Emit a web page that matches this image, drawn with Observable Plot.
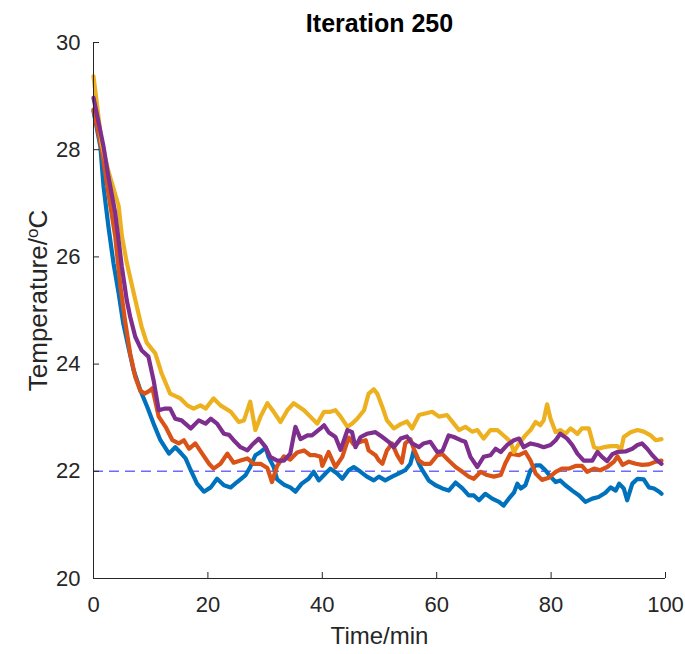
<!DOCTYPE html>
<html><head><meta charset="utf-8">
<script src="https://cdn.jsdelivr.net/npm/d3@7"></script>
<script src="https://cdn.jsdelivr.net/npm/@observablehq/plot@0.6"></script>
<style>body{margin:0;background:#fff;}</style>
</head><body><div id="chart"></div>
<script>
const titleText = "Iteration 250";
const xLabel = "Time/min";
const yLabel = "Temperature/oC";
const xTicks = [0, 20, 40, 60, 80, 100];
const yTicks = [20, 22, 24, 26, 28, 30];
const setpoint = [22];
const seriesColors = ["#0072BD", "#D95319", "#EDB120", "#7E2F8E"];

const blue = [[0,28.72],[1.2,28.06],[1.75,27.32],[2.6,26.57],[3.5,25.88],[4.4,25.32],[5.2,24.76],[6.1,24.32],[7.0,23.89],[8.2,23.51],[9.4,23.2],[10.5,22.89],[11.7,22.58],[13.2,22.33],[14.3,22.45],[15.2,22.35],[16.1,22.24],[17.0,22.02],[18.1,21.77],[19.3,21.62],[20.5,21.7],[21.6,21.86],[22.8,21.74],[24.0,21.7],[25.1,21.8],[26.6,21.93],[27.4,22.08],[28.3,22.3],[29.2,22.36],[30.1,22.44],[30.6,22.27],[31.5,22.08],[32.1,21.85],[33.3,21.75],[34.4,21.7],[35.3,21.62],[36.4,21.77],[37.6,21.86],[38.5,21.99],[39.4,21.83],[40.3,21.93],[41.4,22.05],[42.6,21.96],[43.5,21.86],[44.6,22.02],[45.5,22.08],[46.7,21.99],[47.8,21.9],[49.0,21.83],[49.9,21.9],[51.0,21.83],[52.2,21.9],[53.4,21.96],[54.5,22.02],[55.4,22.14],[56.0,22.39],[56.9,22.14],[57.5,22.02],[58.6,21.83],[59.8,21.74],[61.0,21.68],[62.1,21.64],[63.3,21.79],[64.5,21.68],[65.6,21.55],[66.5,21.55],[67.4,21.46],[68.5,21.58],[69.7,21.49],[70.9,21.43],[71.7,21.36],[72.6,21.49],[73.5,21.6],[74.1,21.77],[74.7,21.68],[75.5,21.74],[76.4,22.02],[77.3,22.11],[78.1,22.11],[79.0,22.02],[79.9,21.9],[80.8,21.8],[81.6,21.83],[82.5,21.74],[83.7,21.64],[84.9,21.55],[86.0,21.43],[87.2,21.49],[88.3,21.52],[89.5,21.6],[90.4,21.7],[91.3,21.64],[91.9,21.77],[92.7,21.68],[93.3,21.46],[94.2,21.77],[95.1,21.86],[96.2,21.85],[97.1,21.7],[98.0,21.68],[98.9,21.62],[99.3,21.58]];

const orange = [[0,28.75],[1.45,28.0],[2.6,27.19],[3.8,26.38],[4.7,25.45],[5.5,24.82],[6.4,24.2],[7.3,23.76],[8.2,23.5],[9.0,23.45],[9.9,23.51],[10.3,23.55],[11.4,23.02],[12.6,22.83],[13.8,22.58],[14.9,22.52],[15.8,22.58],[16.7,22.42],[17.8,22.52],[19.0,22.33],[20.2,22.14],[21.0,22.05],[22.2,22.14],[23.4,22.33],[24.5,22.16],[25.7,22.2],[26.9,22.24],[28.0,22.14],[29.2,22.14],[30.4,22.06],[31.2,21.8],[32.1,22.1],[33.3,22.28],[34.4,22.22],[35.6,22.35],[36.8,22.39],[37.9,22.3],[38.8,22.3],[39.7,22.27],[40.0,22.1],[41.1,22.36],[42.3,22.08],[43.5,22.27],[44.6,22.63],[45.5,22.5],[46.7,22.55],[47.6,22.58],[48.1,22.39],[49.3,22.3],[49.9,22.2],[50.5,22.14],[51.3,22.39],[52.2,22.52],[53.1,22.3],[53.9,22.16],[54.5,22.52],[55.4,22.6],[56.0,22.42],[56.9,22.2],[57.7,22.14],[58.9,22.14],[60.1,22.3],[61.0,22.32],[62.1,22.2],[63.3,22.08],[64.5,21.99],[65.6,21.9],[66.5,21.86],[67.7,21.99],[68.8,21.93],[70.0,21.9],[71.2,21.93],[72.0,22.15],[72.9,22.33],[74.4,22.3],[75.5,22.36],[76.4,22.2],[77.3,21.96],[78.4,21.84],[79.6,21.88],[80.8,21.99],[81.9,22.05],[83.1,22.05],[84.3,22.1],[85.4,22.1],[86.3,21.99],[87.5,22.05],[88.6,22.02],[89.8,22.08],[91.0,22.18],[91.6,22.28],[92.5,22.12],[93.6,22.18],[94.8,22.14],[95.9,22.12],[97.1,22.13],[98.3,22.18],[99.3,22.2]];

const yellow = [[0,29.37],[1.45,28.1],[2.6,27.6],[4.4,26.95],[4.95,26.4],[5.8,25.9],[7.3,25.2],[8.4,24.7],[9.3,24.4],[10.8,24.2],[11.9,23.83],[13.4,23.45],[15.2,23.36],[16.4,23.23],[17.5,23.17],[18.7,23.23],[19.6,23.17],[21.0,23.36],[22.2,23.23],[24.0,23.11],[25.4,22.92],[26.3,22.95],[27.4,23.3],[28.3,22.77],[29.2,23.02],[30.4,23.27],[31.5,23.11],[32.7,22.92],[33.9,23.14],[35.0,23.27],[36.8,23.14],[37.9,23.02],[39.1,22.89],[40.3,23.11],[41.4,23.11],[42.3,23.14],[43.2,23.02],[44.4,22.83],[45.2,22.89],[46.1,22.98],[47.3,23.14],[48.1,23.45],[49.0,23.53],[49.6,23.45],[50.5,23.2],[51.3,22.95],[52.5,22.8],[53.7,22.88],[54.8,22.93],[55.7,22.8],[56.9,23.05],[58.0,23.08],[59.2,23.11],[60.4,23.02],[61.8,23.05],[63.0,22.89],[63.9,22.77],[65.0,22.83],[66.2,22.74],[67.1,22.77],[68.2,22.61],[69.4,22.77],[70.6,22.77],[72.0,22.64],[72.9,22.55],[73.5,22.36],[74.4,22.52],[75.5,22.67],[76.4,22.77],[77.3,22.92],[78.1,22.86],[78.7,22.95],[79.3,23.25],[79.9,22.98],[80.8,22.73],[81.6,22.77],[82.5,22.7],[83.4,22.8],[84.6,22.7],[85.4,22.8],[86.6,22.8],[87.5,22.45],[88.3,22.42],[89.2,22.45],[90.4,22.47],[91.6,22.47],[92.2,22.39],[92.7,22.64],[93.9,22.73],[95.1,22.77],[96.2,22.74],[97.4,22.67],[98.3,22.58],[99.3,22.6]];

const purple = [[0,28.97],[1.75,28.06],[2.6,27.5],[3.8,26.82],[4.95,25.82],[5.8,25.2],[6.4,24.89],[7.3,24.51],[8.4,24.26],[9.6,24.14],[10.5,23.7],[11.4,23.14],[12.5,23.17],[13.4,23.17],[14.3,22.98],[15.4,22.95],[17.0,22.8],[18.4,22.95],[19.6,22.89],[20.5,22.98],[21.6,22.89],[22.8,22.7],[23.7,22.68],[24.5,22.58],[25.7,22.45],[26.9,22.39],[27.7,22.49],[28.9,22.61],[30.1,22.45],[30.9,22.27],[32.1,22.2],[33.3,22.2],[34.4,22.33],[35.3,22.83],[36.2,22.6],[37.4,22.67],[38.2,22.67],[39.7,22.8],[40.3,22.86],[41.1,22.73],[42.3,22.64],[43.2,22.4],[44.4,22.77],[45.2,22.73],[45.8,22.45],[46.7,22.64],[47.8,22.7],[49.3,22.73],[50.5,22.64],[51.6,22.55],[52.5,22.45],[53.7,22.61],[54.8,22.65],[55.7,22.52],[56.9,22.45],[57.7,22.52],[58.9,22.55],[60.1,22.36],[61.0,22.38],[62.1,22.67],[63.0,22.64],[64.2,22.58],[65.0,22.55],[65.9,22.27],[67.1,22.08],[68.2,22.27],[69.4,22.3],[70.3,22.42],[71.2,22.36],[72.3,22.49],[73.5,22.58],[74.4,22.61],[75.2,22.45],[76.4,22.52],[77.6,22.49],[78.7,22.45],[79.9,22.49],[80.8,22.58],[81.6,22.7],[82.8,22.61],[83.7,22.49],[84.6,22.33],[85.7,22.2],[87.2,22.2],[88.1,22.36],[88.9,22.27],[89.8,22.19],[90.7,22.32],[91.6,22.36],[93.0,22.37],[94.2,22.42],[95.1,22.49],[95.9,22.52],[96.8,22.42],[97.7,22.3],[98.6,22.2],[99.3,22.14]];

const series = [blue, orange, yellow, purple];
const axisColor = "#262626";

const lineMarks = series.map((s, i) => Plot.line(s, {
  x: d => d[0], y: d => d[1], stroke: seriesColors[i],
  strokeWidth: 4.2, strokeLinejoin: "round", strokeLinecap: "round"
}));

const chart = Plot.plot({
  width: 685, height: 654,
  marginLeft: 93, marginRight: 20, marginTop: 42, marginBottom: 76,
  style: {fontFamily: "'Liberation Sans', Arial, sans-serif", fontSize: "22px", color: axisColor, background: "#fff"},
  x: {domain: [0, 100], ticks: xTicks, label: null},
  y: {domain: [20, 30], ticks: yTicks, label: null},
  marks: [
    Plot.ruleY(setpoint, {stroke: "#6b6bff", strokeWidth: 1.6, strokeDasharray: "10,6"}),
    ...lineMarks,
    Plot.ruleX([0], {stroke: axisColor, strokeWidth: 1}),
    Plot.ruleY([20], {stroke: axisColor, strokeWidth: 1}),
    Plot.axisX(xTicks, {tickSize: -6, tickPadding: 24, stroke: axisColor, fill: axisColor, tickFormat: d => String(d)}),
    Plot.axisY(yTicks, {tickSize: -6, tickPadding: 19, stroke: axisColor, fill: axisColor, tickFormat: d => String(d)}),
    Plot.text([xLabel], {frameAnchor: "bottom", lineAnchor: "middle", textAnchor: "middle", dy: 58, fill: axisColor, fontSize: 24}),
    Plot.text([yLabel], {frameAnchor: "left", lineAnchor: "middle", textAnchor: "middle", dx: -55, dy: -10, rotate: -90, fill: axisColor, fontSize: 26}),
    Plot.text([titleText], {frameAnchor: "top", lineAnchor: "middle", textAnchor: "middle", dy: -19, fill: "#000", fontSize: 25, fontWeight: "bold"})
  ]
});
document.getElementById("chart").appendChild(chart);

// superscript "o" in the y label
d3.select(chart).selectAll("text").each(function() {
  if (this.textContent === yLabel) {
    const t = d3.select(this);
    t.text(null);
    t.append("tspan").text("Temperature/");
    t.append("tspan").attr("dy", "-9").attr("font-size", "17").text("o");
    t.append("tspan").attr("dy", "9").text("C");
  }
});
</script>
</body></html>
